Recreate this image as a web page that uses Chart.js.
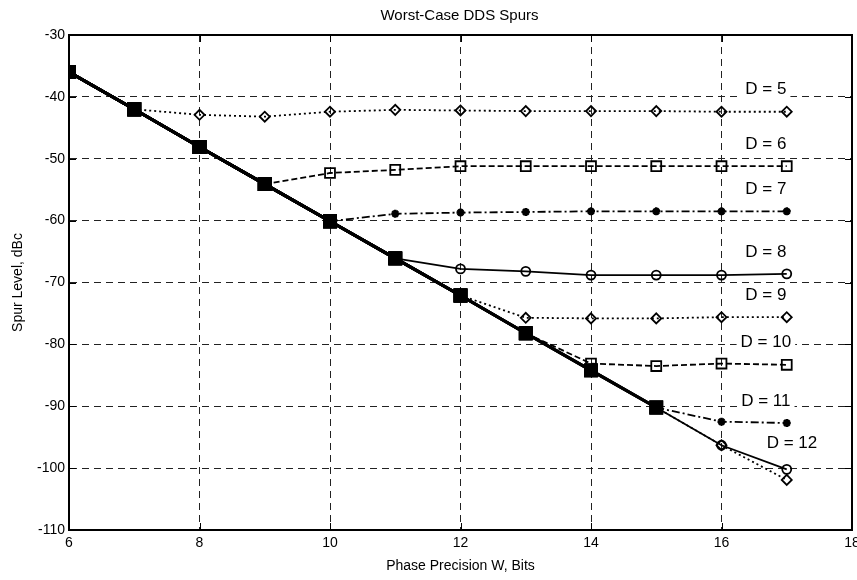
<!DOCTYPE html>
<html>
<head>
<meta charset="utf-8">
<script src="https://cdn.jsdelivr.net/npm/chart.js@4"></script>
<style>
  html, body { margin: 0; padding: 0; background: #fff; }
  #wrap { width: 857px; height: 580px; }
</style>
</head>
<body>
<div id="wrap"><canvas id="myChart" width="857" height="580"></canvas></div>
<script>
// Phase precision W (bits)
const wBits = [6, 7, 8, 9, 10, 11, 12, 13, 14, 15, 16, 17];
const xTicks = [6, 8, 10, 12, 14, 16, 18];
const yTicks = [-30, -40, -50, -60, -70, -80, -90, -100, -110];

// Spur level (dBc) for each D
const spurD5  = [-36, -42, -42.9, -43.2, -42.4, -42.1, -42.2, -42.3, -42.3, -42.3, -42.4, -42.4];
const spurD6  = [-36, -42, -48.1, -54.1, -52.3, -51.8, -51.2, -51.2, -51.2, -51.2, -51.2, -51.2];
const spurD7  = [-36, -42, -48.1, -54.1, -60.1, -58.9, -58.7, -58.6, -58.5, -58.5, -58.5, -58.5];
const spurD8  = [-36, -42, -48.1, -54.1, -60.1, -66.1, -67.8, -68.2, -68.8, -68.8, -68.8, -68.6];
const spurD9  = [-36, -42, -48.1, -54.1, -60.1, -66.1, -72.1, -75.7, -75.8, -75.8, -75.6, -75.6];
const spurD10 = [-36, -42, -48.1, -54.1, -60.1, -66.1, -72.1, -78.2, -83.1, -83.5, -83.1, -83.3];
const spurD11 = [-36, -42, -48.1, -54.1, -60.1, -66.1, -72.1, -78.2, -84.2, -90.2, -92.5, -92.7];
const spurD12 = [-36, -42, -48.1, -54.1, -60.1, -66.1, -72.1, -78.2, -84.2, -90.2, -96.3, -100.2];
const spurD13 = [-36, -42, -48.1, -54.1, -60.1, -66.1, -72.1, -78.2, -84.2, -90.2, -96.3, -101.9];

const seriesNames = ['D = 5', 'D = 6', 'D = 7', 'D = 8', 'D = 9', 'D = 10', 'D = 11', 'D = 12', ''];
const seriesData = [spurD5, spurD6, spurD7, spurD8, spurD9, spurD10, spurD11, spurD12, spurD13];

// MATLAB-like cycle: diamond dotted, square dashed, star dash-dot, circle solid
const styleCycle = [
  { point: 'rectRot', radius: 5, dash: [2, 3] },
  { point: 'rect', radius: 7, dash: [6, 3] },
  { point: 'star', radius: 4, dash: [8, 3, 2, 3] },
  { point: 'circle', radius: 4.5, dash: [] }
];

const FONT = "'Liberation Sans', Arial, Helvetica, sans-serif";

function isDiag(i, v) {
  return wBits[i] <= 15 && v === spurD13[i];
}
// point sits on the shared (unsaturated) diagonal
function onDiagonal(ctx) {
  return ctx.raw ? isDiag(ctx.dataIndex, ctx.raw.y) : false;
}
function segOnDiag(ctx) {
  return isDiag(ctx.p0DataIndex, ctx.p0.parsed.y) && isDiag(ctx.p1DataIndex, ctx.p1.parsed.y);
}

const datasets = seriesData.map(function (arr, k) {
  const st = styleCycle[k % 4];
  return {
    label: seriesNames[k],
    data: arr.map(function (v, i) { return { x: wBits[i], y: v }; }),
    borderColor: '#000',
    borderWidth: 1.8,
    borderDash: st.dash,
    fill: false,
    tension: 0,
    segment: {
      borderWidth: function (ctx) { return segOnDiag(ctx) ? 3 : 1.8; },
      borderDash: function (ctx) { return segOnDiag(ctx) ? [] : st.dash; }
    },
    pointStyle: function (ctx) { return onDiagonal(ctx) ? 'rect' : st.point; },
    pointRadius: function (ctx) { return onDiagonal(ctx) ? 8.5 : st.radius; },
    pointBorderColor: '#000',
    pointBorderWidth: function (ctx) { return st.point === 'star' && !onDiagonal(ctx) ? 2.5 : 1.8; },
    pointBackgroundColor: function (ctx) { return onDiagonal(ctx) ? '#000' : 'rgba(0,0,0,0)'; }
  };
});

// Texts, frame, x tick labels and inner tick marks
const decorPlugin = {
  id: 'decor',
  beforeDatasetsDraw: function (chart) {
    // D labels (white box hides the grid behind them)
    const c = chart.ctx;
    const xs = chart.scales.x, ys = chart.scales.y;
    c.save();
    c.font = '17px ' + FONT;
    c.textAlign = 'center';
    c.textBaseline = 'middle';
    seriesData.forEach(function (arr, k) {
      if (!seriesNames[k]) return;
      const last = arr[arr.length - 1];
      const isLast = k === seriesData.length - 2;
      const px = xs.getPixelForValue(isLast ? 17.08 : 16.68);
      const py = ys.getPixelForValue(last) - (isLast ? 26 : 22);
      const w = c.measureText(seriesNames[k]).width;
      c.fillStyle = '#fff';
      c.fillRect(px - w / 2 - 4, py - 9, w + 8, 18);
      c.fillStyle = '#000';
      c.fillText(seriesNames[k], px, py);
    });
    c.restore();
  },
  afterDraw: function (chart) {
    const c = chart.ctx;
    const a = chart.chartArea;
    const xs = chart.scales.x, ys = chart.scales.y;
    c.save();
    // frame
    c.strokeStyle = '#000';
    c.lineWidth = 2;
    c.setLineDash([]);
    c.strokeRect(a.left, a.top, a.right - a.left, a.bottom - a.top);
    // inner ticks
    c.lineWidth = 1;
    xTicks.forEach(function (t) {
      const px = Math.round(xs.getPixelForValue(t)) + 0.5;
      c.beginPath();
      c.moveTo(px, a.bottom); c.lineTo(px, a.bottom - 7);
      c.moveTo(px, a.top); c.lineTo(px, a.top + 7);
      c.stroke();
    });
    yTicks.forEach(function (t) {
      const py = Math.round(ys.getPixelForValue(t)) + 0.5;
      c.beginPath();
      c.moveTo(a.left, py); c.lineTo(a.left + 7, py);
      c.moveTo(a.right, py); c.lineTo(a.right - 7, py);
      c.stroke();
    });
    c.fillStyle = '#000';
    c.textAlign = 'center';
    // x tick labels
    c.font = '14px ' + FONT;
    c.textBaseline = 'top';
    xTicks.forEach(function (t) {
      c.fillText(String(t), xs.getPixelForValue(t), a.bottom + 6);
    });
    // titles
    c.textBaseline = 'middle';
    c.font = '15px ' + FONT;
    c.fillText('Worst-Case DDS Spurs', (a.left + a.right) / 2 - 1, 16);
    c.font = '14px ' + FONT;
    c.fillText('Phase Precision W, Bits', (a.left + a.right) / 2, 566);
    c.save();
    c.translate(18, (a.top + a.bottom) / 2);
    c.rotate(-Math.PI / 2);
    c.fillText('Spur Level, dBc', 0, 0);
    c.restore();
    c.restore();
  }
};

const ctx = document.getElementById('myChart').getContext('2d');
const myChart = new Chart(ctx, {
  type: 'line',
  data: { datasets: datasets },
  options: {
    responsive: false,
    animation: false,
    layout: { autoPadding: false, padding: { top: 35, right: 5, left: 0, bottom: 0 } },
    plugins: { legend: { display: false }, tooltip: { enabled: false }, title: { display: false } },
    scales: {
      x: {
        type: 'linear',
        min: 6, max: 18,
        afterBuildTicks: function (s) { s.ticks = xTicks.map(function (v) { return { value: v }; }); },
        afterFit: function (s) { s.height = 50; },
        grid: { color: '#222', lineWidth: 1, drawTicks: false },
        border: { display: true, color: '#000', width: 2, dash: [7, 5] },
        ticks: { display: false }
      },
      y: {
        type: 'linear',
        min: -110, max: -30,
        afterBuildTicks: function (s) { s.ticks = yTicks.map(function (v) { return { value: v }; }); },
        afterFit: function (s) { s.width = 69; s.paddingTop = 0; s.paddingBottom = 0; },
        grid: { color: '#222', lineWidth: 1, drawTicks: false },
        border: { display: true, color: '#000', width: 2, dash: [7, 5] },
        ticks: { color: '#000', font: { family: FONT, size: 14 }, padding: 4, autoSkip: false }
      }
    }
  },
  plugins: [decorPlugin]
});
</script>
</body>
</html>
